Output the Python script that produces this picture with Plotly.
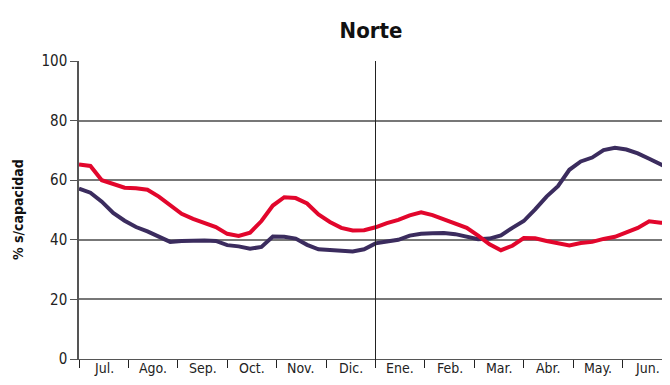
import plotly.graph_objects as go

# weekly readings, Jul. -> Jun.
weeks = list(range(53))
reservas_actual = [
    65.3, 64.8, 60.0, 58.8, 57.5, 57.3, 56.8, 54.5, 51.5, 48.7,
    47.0, 45.5, 44.3, 42.0, 41.3, 42.4, 46.3, 51.5, 54.3, 54.0,
    52.2, 48.5, 46.0, 44.0, 43.1, 43.2, 44.2, 45.6, 46.7, 48.2,
    49.2, 48.3, 46.8, 45.6, 44.0, 41.4, 38.5, 36.5, 38.0, 40.6,
    40.5, 39.6, 38.7, 38.1, 38.9, 39.3, 40.3, 41.0, 42.5, 44.0,
    46.2, 45.7, 46.0,
]
reservas_anterior = [
    57.2, 55.8, 52.8, 49.0, 46.4, 44.3, 42.8, 41.0, 39.3, 39.6,
    39.8, 39.8, 39.6, 38.2, 37.8, 37.0, 37.6, 41.1, 41.0, 40.4,
    38.3, 36.8, 36.6, 36.3, 36.1, 36.8, 38.8, 39.4, 40.0, 41.4,
    42.0, 42.2, 42.3, 41.9, 40.9, 40.2, 40.4, 41.5, 44.0, 46.3,
    50.2, 54.5, 58.0, 63.5, 66.3, 67.6, 70.1, 70.9, 70.3, 69.0,
    67.2, 65.5, 63.5,
]
months = ["Jul.", "Ago.", "Sep.", "Oct.", "Nov.", "Dic.",
          "Ene.", "Feb.", "Mar.", "Abr.", "May.", "Jun."]

month_len = 52 / 12
month_edges = [i * month_len for i in range(13)]
month_centres = [(i + 0.5) * month_len for i in range(12)]

font = "DejaVu Sans Condensed, Liberation Sans Narrow, sans-serif"

fig = go.Figure()

fig.add_trace(
    go.Scatter(
        x=weeks,
        y=reservas_anterior,
        mode="lines",
        line=dict(color="#3b2c5e", width=4),
    )
)

fig.add_trace(
    go.Scatter(
        x=weeks,
        y=reservas_actual,
        mode="lines",
        line=dict(color="#e2062c", width=4),
    )
)

# year boundary (Ene.)
fig.add_shape(
    type="line", xref="x", yref="paper",
    x0=month_edges[6], x1=month_edges[6], y0=-0.027, y1=1,
    line=dict(color="#222222", width=1),
)

for c, m in zip(month_centres, months):
    fig.add_annotation(
        x=c, y=0, xref="x", yref="paper", yshift=-19,
        text=m, showarrow=False,
        font=dict(family=font, size=14, color="#222222"),
    )

# y axis title
fig.add_annotation(
    x=0, y=0.5, xref="paper", yref="paper", xshift=-61,
    xanchor="center", yanchor="middle",
    text="<b>% s/capacidad</b>", textangle=-90, showarrow=False,
    font=dict(family=font, size=14, color="#111111"),
)

fig.update_layout(
    width=670,
    height=385,
    margin=dict(l=71, r=6, t=53, b=34),
    paper_bgcolor="white",
    plot_bgcolor="white",
    showlegend=False,
    title=dict(
        text="<b>Norte</b>",
        x=363 / 670, xanchor="center",
        y=1 - 22 / 385, yanchor="middle",
        font=dict(family=font, size=22, color="#111111"),
    ),
    xaxis=dict(
        range=[0, 52],
        tickvals=month_edges,
        ticktext=[""] * 13,
        ticks="outside",
        ticklen=8,
        tickcolor="#222222",
        showgrid=False,
        zeroline=False,
        showline=True,
        linecolor="#555555",
        linewidth=1,
    ),
    yaxis=dict(
        range=[0, 100],
        dtick=20,
        ticks="outside",
        ticklen=7,
        tickcolor="#555555",
        showgrid=True,
        gridcolor="#777777",
        gridwidth=1.5,
        zeroline=False,
        showline=True,
        linecolor="#555555",
        linewidth=1.5,
        tickfont=dict(family=font, size=15, color="#222222"),
    ),
)

fig.write_html("out.html")
